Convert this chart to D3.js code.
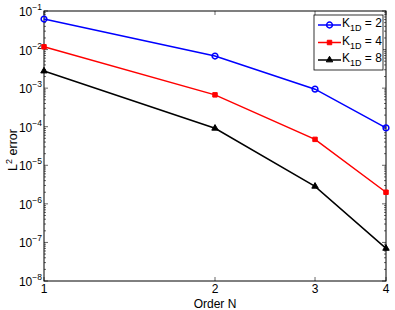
<!DOCTYPE html>
<html lang="en">
<head>
  <meta charset="UTF-8">
  <title>L2 error vs order</title>
  <script src="https://d3js.org/d3.v7.min.js"></script>
  <style>
    body { margin: 0; background: #fff; }
    text { font-family: "Liberation Sans", Arial, sans-serif; fill: #000; }
  </style>
</head>
<body>
  <svg id="chart" width="395" height="310"></svg>
  <script>
    // data
    const orders = [1, 2, 3, 4];
    const seriesNames = ["2", "4", "8"];
    const errK2 = [0.062, 6.8e-3, 9.4e-4, 9.3e-5];
    const errK4 = [0.0118, 6.7e-4, 4.7e-5, 2.0e-6];
    const errK8 = [2.77e-3, 9.1e-5, 2.85e-6, 7.0e-8];
    const yTickExps = [-1, -2, -3, -4, -5, -6, -7, -8];

    const series = [
      { name: seriesNames[0], values: errK2, color: "#0000ff", symbol: "circle" },
      { name: seriesNames[1], values: errK4, color: "#ff0000", symbol: "square" },
      { name: seriesNames[2], values: errK8, color: "#000000", symbol: "triangle" }
    ];

    const margin = { top: 11, right: 9, bottom: 29, left: 44 };
    const width = 395 - margin.left - margin.right;
    const height = 310 - margin.top - margin.bottom;

    const svg = d3.select("#chart");
    const g = svg.append("g").attr("transform", `translate(${margin.left},${margin.top})`);

    const x = d3.scaleLog().domain([1, 4]).range([0, width]);
    const y = d3.scaleLog().domain([1e-8, 1e-1]).range([height, 0]);

    // minor ticks on log axis
    const minor = [];
    for (let e = -8; e < -1; e++) {
      for (let m = 2; m <= 9; m++) minor.push(m * Math.pow(10, e));
    }

    const tickLen = 4, minorLen = 2;
    // left and right y ticks (inside)
    [0, width].forEach((xx, i) => {
      const dir = i === 0 ? 1 : -1;
      g.selectAll(null).data(yTickExps).enter().append("line")
        .attr("x1", xx).attr("x2", xx + dir * tickLen)
        .attr("y1", d => y(Math.pow(10, d))).attr("y2", d => y(Math.pow(10, d)))
        .attr("stroke", "#000").attr("stroke-width", 0.6);
      g.selectAll(null).data(minor).enter().append("line")
        .attr("x1", xx).attr("x2", xx + dir * minorLen)
        .attr("y1", d => y(d)).attr("y2", d => y(d))
        .attr("stroke", "#000").attr("stroke-width", 0.6);
    });
    // bottom and top x ticks
    [height, 0].forEach((yy, i) => {
      const dir = i === 0 ? -1 : 1;
      g.selectAll(null).data(orders).enter().append("line")
        .attr("y1", yy).attr("y2", yy + dir * tickLen)
        .attr("x1", d => x(d)).attr("x2", d => x(d))
        .attr("stroke", "#000").attr("stroke-width", 0.6);
    });

    // frame
    g.append("rect").attr("width", width).attr("height", height)
      .attr("fill", "none").attr("stroke", "#000").attr("stroke-width", 1);

    // y tick labels 10^n
    const yl = g.selectAll(null).data(yTickExps).enter().append("text")
      .attr("x", -2).attr("y", d => y(Math.pow(10, d)) + 5)
      .attr("text-anchor", "end").style("font-size", "12px");
    yl.append("tspan").text("10");
    yl.append("tspan").attr("dy", -6).style("font-size", "8.5px").text(d => "\u2212" + (-d));

    // x tick labels
    g.selectAll(null).data(orders).enter().append("text")
      .attr("x", d => x(d)).attr("y", height + 12)
      .attr("text-anchor", "middle").style("font-size", "12px")
      .text(d => d);

    // axis titles
    g.append("text").attr("x", x(2)).attr("y", height + 26.5)
      .attr("text-anchor", "middle").style("font-size", "12px").text("Order N");
    const yt = svg.append("text")
      .attr("transform", `translate(17,${margin.top + height / 2 + 4}) rotate(-90)`)
      .attr("text-anchor", "middle").style("font-size", "12.5px");
    yt.append("tspan").text("L");
    yt.append("tspan").attr("dy", -5).style("font-size", "9px").text("2");
    yt.append("tspan").attr("dy", 5).text(" error");

    const symbolType = { circle: d3.symbolCircle, square: d3.symbolSquare, triangle: d3.symbolTriangle };
    const symbolSize = { circle: 26, square: 20, triangle: 18 };

    const drawSymbol = (sel, s) => sel
      .attr("d", d3.symbol().type(symbolType[s.symbol]).size(symbolSize[s.symbol]))
      .attr("fill", s.symbol === "circle" ? "none" : s.color)
      .attr("stroke", s.color).attr("stroke-width", s.symbol === "circle" ? 1.5 : 1);

    const line = d3.line().x((d, i) => x(orders[i])).y(d => y(d));
    series.forEach(s => {
      g.append("path").datum(s.values).attr("d", line)
        .attr("fill", "none").attr("stroke", s.color).attr("stroke-width", 1.5);
      g.selectAll(null).data(s.values).enter().append("path")
        .attr("transform", (d, i) => `translate(${x(orders[i])},${y(d)})`)
        .call(drawSymbol, s);
    });

    // legend
    const lg = g.append("g").attr("transform", `translate(${width - 72},4)`);
    lg.append("rect").attr("width", 69).attr("height", 55)
      .attr("fill", "#fff").attr("stroke", "#000").attr("stroke-width", 0.8);
    series.forEach((s, i) => {
      const yy = 10 + i * 17.5;
      lg.append("line").attr("x1", 4).attr("x2", 27).attr("y1", yy).attr("y2", yy)
        .attr("stroke", s.color).attr("stroke-width", 1.5);
      lg.append("path").attr("transform", `translate(15.5,${yy})`)
        .call(drawSymbol, { color: s.color, symbol: s.symbol });
      const t = lg.append("text").attr("x", 28).attr("y", yy + 2).style("font-size", "12px");
      t.append("tspan").text("K");
      t.append("tspan").attr("dy", 4).style("font-size", "9px").text("1D");
      t.append("tspan").attr("dy", -4).text(" = " + s.name);
    });
  </script>
</body>
</html>
